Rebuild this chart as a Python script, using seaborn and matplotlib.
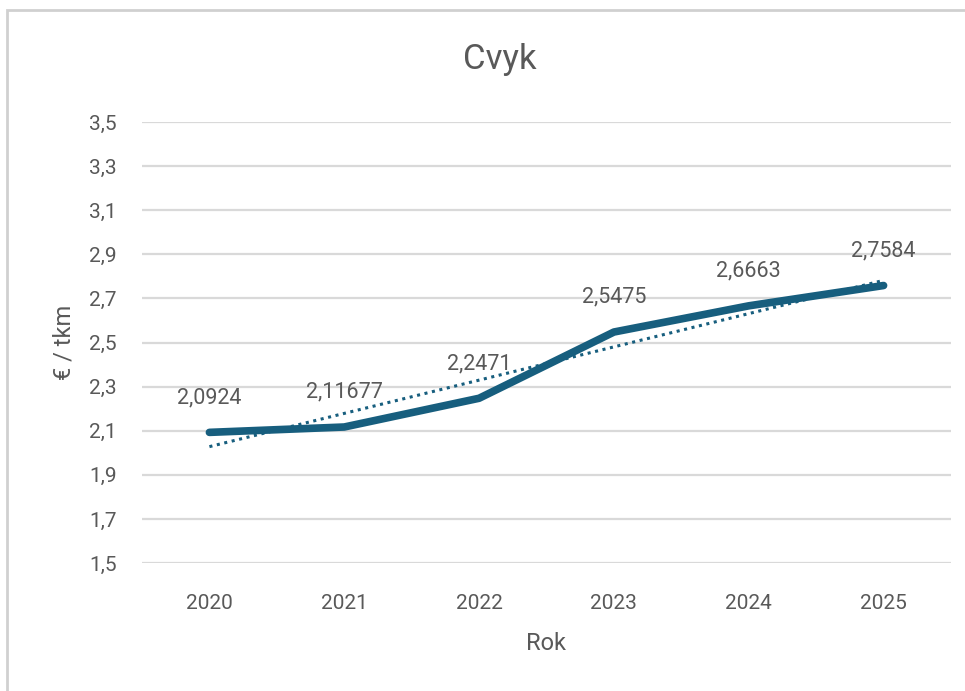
import matplotlib
matplotlib.use("Agg")
import matplotlib.pyplot as plt
import seaborn as sns
import numpy as np
import pandas as pd
from matplotlib.patches import Rectangle

years = ["2020", "2021", "2022", "2023", "2024", "2025"]
values = [2.0924, 2.11677, 2.2471, 2.5475, 2.6663, 2.7584]
value_labels = ["2,0924", "2,11677", "2,2471", "2,5475", "2,6663", "2,7584"]
y_ticks = [1.5, 1.7, 1.9, 2.1, 2.3, 2.5, 2.7, 2.9, 3.1, 3.3, 3.5]
title = "Cvyk"
x_label = "Rok"
y_label = "€ / tkm"

sns.set_theme(style="white")
plt.rcParams['font.family'] = ['Roboto', 'DejaVu Sans']

LINE = "#175E7E"
TXT = "#595959"
GRID = "#D9D9D9"

df = pd.DataFrame({"idx": np.arange(len(years)), "year": years, "value": values})

fig = plt.figure(figsize=(9.65, 6.91), dpi=100)
fig.patches.append(Rectangle((7 / 965, -0.05), 1.2, 1 - 10 / 691 + 0.05,
                             transform=fig.transFigure, fill=False,
                             edgecolor="#D0D0D0", linewidth=2, zorder=0))
ax = fig.add_axes([142 / 965, 1 - 563 / 691, (951 - 142) / 965, (563 - 122) / 691])

for t in y_ticks:
    ax.axhline(t, color=GRID, linewidth=1.6, zorder=0)

sns.regplot(data=df, x="idx", y="value", ax=ax, scatter=False, ci=None, truncate=True,
            line_kws=dict(color=LINE, linestyle=(0, (1, 1.5)), linewidth=2.2, zorder=2))
sns.lineplot(data=df, x="idx", y="value", ax=ax, color=LINE, linewidth=5.5, zorder=3,
             solid_capstyle="round")

for i, (v, lab) in enumerate(zip(values, value_labels)):
    ax.annotate(lab, (i, v), xytext=(0, 25), textcoords="offset points",
                ha="center", va="center", fontsize=15.5, color=TXT)

ax.set_xlim(-0.5, len(years) - 0.5)
ax.set_ylim(1.5, 3.5)
ax.set_xticks(range(len(years)))
ax.set_xticklabels(years)
ax.set_yticks(y_ticks)
ax.set_yticklabels([f"{t:.1f}".replace(".", ",") for t in y_ticks])
ax.tick_params(axis="both", length=0, labelsize=15, labelcolor=TXT)
ax.tick_params(axis="x", pad=22)
ax.tick_params(axis="y", pad=18)
for s in ax.spines.values():
    s.set_visible(False)

ax.set_xlabel(x_label, fontsize=17, color=TXT, labelpad=14)
ax.set_ylabel(y_label, fontsize=17, color=TXT, labelpad=10)
fig.text(500 / 965, 1 - 60 / 691, title, ha="center", va="center", fontsize=25, color=TXT)

fig.savefig("out.png", dpi=100)
